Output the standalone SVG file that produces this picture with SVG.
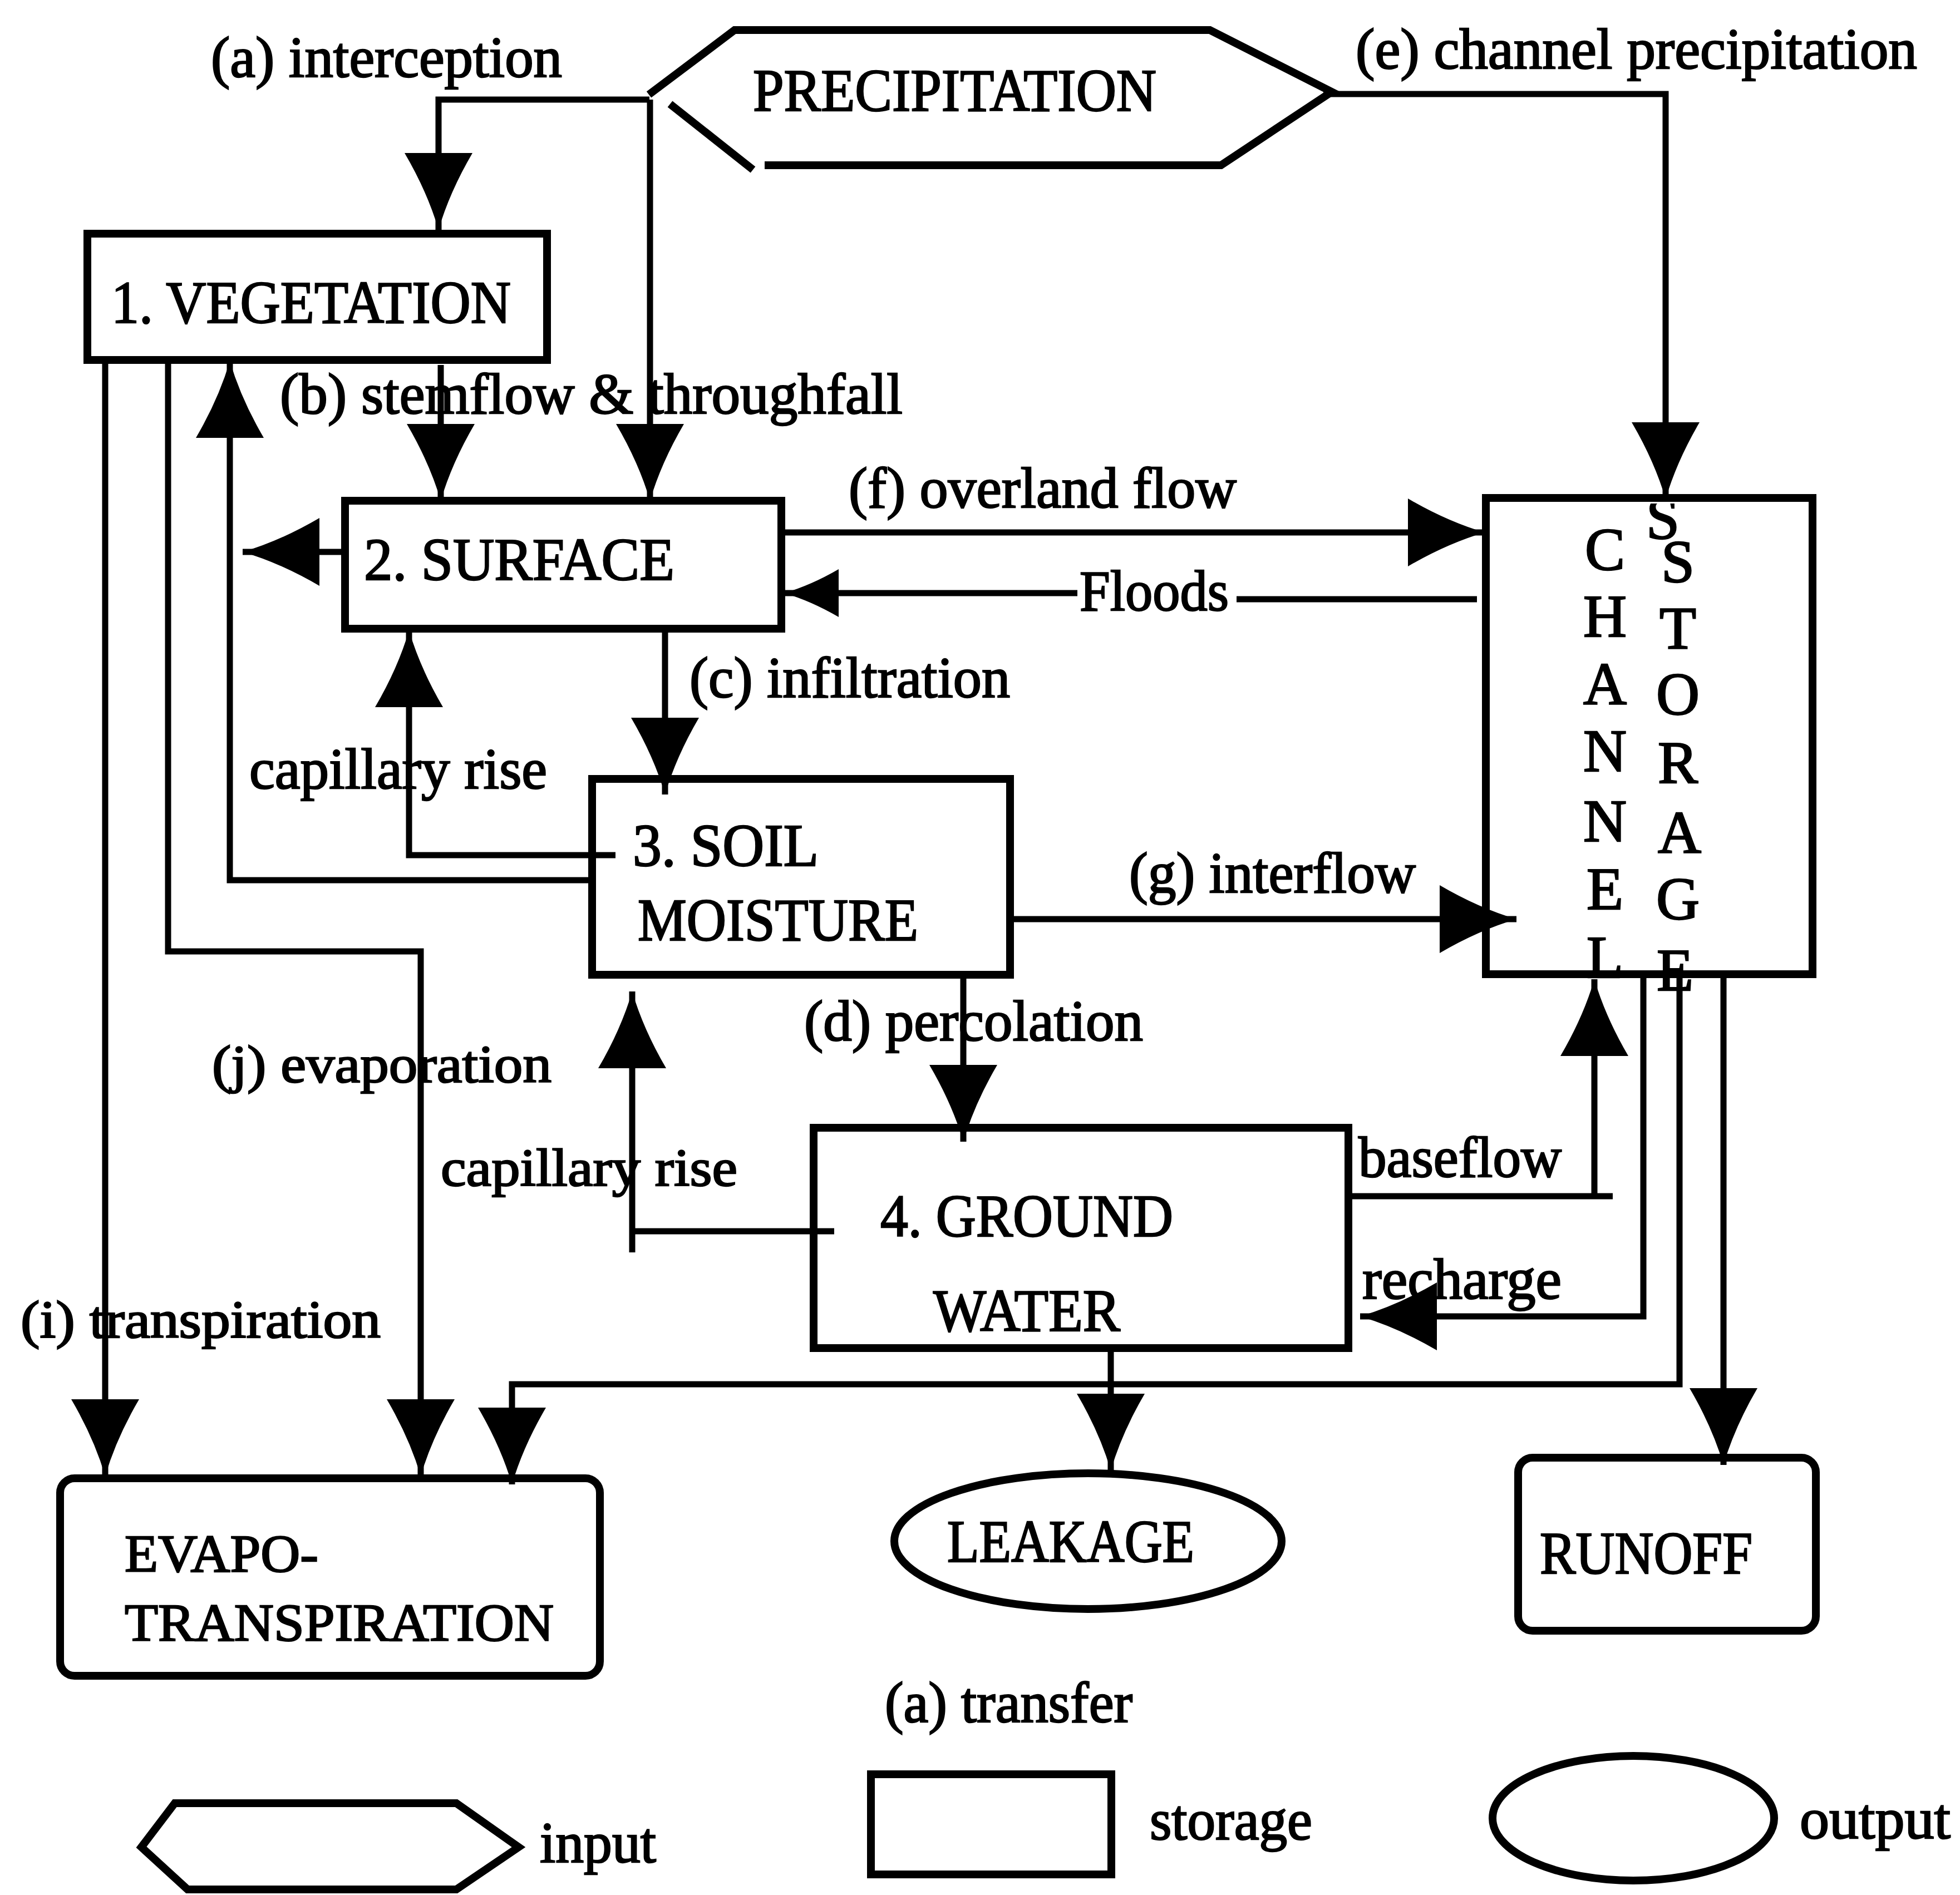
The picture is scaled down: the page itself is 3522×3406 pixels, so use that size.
<svg xmlns="http://www.w3.org/2000/svg" width="3522" height="3406" viewBox="0 0 3522 3406">
<style>
.t{font-family:"Liberation Serif","Times New Roman",serif;font-size:104px;fill:#000;stroke:#000;stroke-width:2.5}
.c{font-size:108px}
.p{font-size:96px}
.L{font-family:"Liberation Serif","Times New Roman",serif;font-size:108px;fill:#000;stroke:#000;stroke-width:2.5;text-anchor:middle}
.box{fill:none;stroke:#000;stroke-width:14}
.ln{fill:none;stroke:#000;stroke-width:11}
</style>
<defs>
<marker id="ah" markerUnits="userSpaceOnUse" markerWidth="140" markerHeight="124" viewBox="0 0 140 124" refX="138" refY="62" orient="auto" overflow="visible">
<path d="M0,1 Q70,42 138,62 Q70,82 0,123 Z" fill="#000" stroke="none"/>
</marker>
<marker id="ahs" markerUnits="userSpaceOnUse" markerWidth="100" markerHeight="88" viewBox="0 0 100 88" refX="98" refY="44" orient="auto" overflow="visible">
<path d="M0,1 Q50,30 98,44 Q50,58 0,87 Z" fill="#000" stroke="none"/>
</marker>
<clipPath id="clipS"><rect x="2940" y="905" width="100" height="75"/></clipPath>
</defs>
<rect width="3522" height="3406" fill="#fff"/>

<g id="precipitation">
<polyline class="box" points="1374,297 2194,297 2393,165 2174,54 1320,54 1166,170"/>
<line class="box" x1="1204" y1="187" x2="1353" y2="305"/>
<text class="t c" x="1353" y="199" textLength="725" lengthAdjust="spacingAndGlyphs">PRECIPITATION</text>
</g>

<g id="vegetation">
<rect class="box" x="157" y="420" width="826" height="227"/>
<text class="t c" x="200" y="580" textLength="718" lengthAdjust="spacingAndGlyphs">1. VEGETATION</text>
</g>

<g id="surface">
<rect class="box" x="620" y="900" width="784" height="230"/>
<text class="t c" x="654" y="1042" textLength="558" lengthAdjust="spacingAndGlyphs">2. SURFACE</text>
</g>

<g id="soil-moisture">
<rect class="box" x="1064" y="1400" width="751" height="352"/>
<text class="t c" x="1137" y="1556" textLength="334" lengthAdjust="spacingAndGlyphs">3. SOIL</text>
<text class="t c" x="1146" y="1690" textLength="504" lengthAdjust="spacingAndGlyphs">MOISTURE</text>
</g>

<g id="ground-water">
<rect class="box" x="1462" y="2027" width="961" height="396"/>
<text class="t c" x="1582" y="2222" textLength="526" lengthAdjust="spacingAndGlyphs">4. GROUND</text>
<text class="t c" x="1677" y="2392" textLength="336" lengthAdjust="spacingAndGlyphs">WATER</text>
</g>

<g id="channel-storage">
<rect class="box" x="2670" y="895" width="587" height="856"/>
<text class="L" x="2884" y="1024">C</text>
<text class="L" x="2884" y="1144">H</text>
<text class="L" x="2884" y="1266">A</text>
<text class="L" x="2884" y="1386">N</text>
<text class="L" x="2884" y="1512">N</text>
<text class="L" x="2884" y="1634">E</text>
<text class="L" x="2884" y="1757">L</text>
<text class="L" x="2988" y="968" font-size="90" clip-path="url(#clipS)">S</text>
<text class="L" x="3015" y="1046">S</text>
<text class="L" x="3015" y="1165">T</text>
<text class="L" x="3015" y="1284">O</text>
<text class="L" x="3015" y="1407">R</text>
<text class="L" x="3018" y="1533">A</text>
<text class="L" x="3015" y="1652">G</text>
<text class="L" x="3010" y="1780">E</text>
</g>

<g id="evapotranspiration">
<rect class="box" x="108" y="2657" width="970" height="355" rx="26"/>
<text class="t p" x="224" y="2825" textLength="348" lengthAdjust="spacingAndGlyphs">EVAPO-</text>
<text class="t p" x="224" y="2949" textLength="771" lengthAdjust="spacingAndGlyphs">TRANSPIRATION</text>
</g>

<g id="leakage">
<ellipse class="box" cx="1955" cy="2770" rx="348" ry="122"/>
<text class="t c" x="1702" y="2807" textLength="444" lengthAdjust="spacingAndGlyphs">LEAKAGE</text>
</g>

<g id="runoff">
<rect class="box" x="2728" y="2620" width="535" height="311" rx="26"/>
<text class="t c" x="2767" y="2828" textLength="382" lengthAdjust="spacingAndGlyphs">RUNOFF</text>
</g>

<g id="connectors">
<path class="ln" d="M1167,179 H788 V413" marker-end="url(#ah)"/>
<path class="ln" d="M1168,179 V900" marker-end="url(#ah)"/>
<path class="ln" d="M792,656 V900" marker-end="url(#ah)"/>
<path class="ln" d="M2378,169 H2993 V897" marker-end="url(#ah)"/>
<path class="ln" d="M1064,1582 H413 V649" marker-end="url(#ah)"/>
<path class="ln" d="M620,992 H436" marker-end="url(#ah)"/>
<path class="ln" d="M1409,957 H2668" marker-end="url(#ah)"/>
<path class="ln" d="M2654,1077 H2222"/>
<path class="ln" d="M1936,1066 H1409" marker-end="url(#ahs)"/>
<path class="ln" d="M1195,1132 V1428" marker-end="url(#ah)"/>
<path class="ln" d="M1106,1537 H735 V1133" marker-end="url(#ah)"/>
<path class="ln" d="M1820,1652 H2725" marker-end="url(#ah)"/>
<path class="ln" d="M189,647 V2653" marker-end="url(#ah)"/>
<path class="ln" d="M302,647 V1710 H756 V2653" marker-end="url(#ah)"/>
<path class="ln" d="M1731,1750 V2052" marker-end="url(#ah)"/>
<path class="ln" d="M1499,2213 H1136"/>
<path class="ln" d="M1136,2251 V1782" marker-end="url(#ah)"/>
<path class="ln" d="M2427,2150 H2898"/>
<path class="ln" d="M2865,2150 V1760" marker-end="url(#ah)"/>
<path class="ln" d="M2953,1751 V2366 H2444" marker-end="url(#ah)"/>
<path class="ln" d="M3018,1751 V2488 H920 V2668" marker-end="url(#ah)"/>
<path class="ln" d="M3097,1751 V2633" marker-end="url(#ah)"/>
<path class="ln" d="M1996,2425 V2643" marker-end="url(#ah)"/>
</g>

<g id="labels">
<text class="t" x="379" y="138" textLength="631" lengthAdjust="spacingAndGlyphs">(a) interception</text>
<text class="t" x="2436" y="123" textLength="1009" lengthAdjust="spacingAndGlyphs">(e) channel precipitation</text>
<text class="t" x="503" y="743" textLength="1119" lengthAdjust="spacingAndGlyphs">(b) stemflow &amp; throughfall</text>
<text class="t" x="1525" y="912" textLength="697" lengthAdjust="spacingAndGlyphs">(f) overland flow</text>
<text class="t" x="1940" y="1097" textLength="268" lengthAdjust="spacingAndGlyphs">Floods</text>
<text class="t" x="1239" y="1253" textLength="576" lengthAdjust="spacingAndGlyphs">(c) infiltration</text>
<text class="t" x="448" y="1417" textLength="535" lengthAdjust="spacingAndGlyphs">capillary rise</text>
<text class="t" x="2029" y="1604" textLength="515" lengthAdjust="spacingAndGlyphs">(g) interflow</text>
<text class="t p" x="381" y="1945" textLength="610" lengthAdjust="spacingAndGlyphs">(j) evaporation</text>
<text class="t" x="1445" y="1870" textLength="609" lengthAdjust="spacingAndGlyphs">(d) percolation</text>
<text class="t p" x="792" y="2131" textLength="533" lengthAdjust="spacingAndGlyphs">capillary rise</text>
<text class="t" x="2441" y="2115" textLength="365" lengthAdjust="spacingAndGlyphs">baseflow</text>
<text class="t" x="2448" y="2334" textLength="358" lengthAdjust="spacingAndGlyphs">recharge</text>
<text class="t p" x="37" y="2404" textLength="647" lengthAdjust="spacingAndGlyphs">(i) transpiration</text>
</g>

<g id="legend">
<text class="t" x="1590" y="3095" textLength="445" lengthAdjust="spacingAndGlyphs">(a) transfer</text>
<polygon class="box" points="314,3241 820,3241 932,3320 820,3396 337,3396 254,3320"/>
<text class="t" x="970" y="3347" textLength="209" lengthAdjust="spacingAndGlyphs">input</text>
<rect class="box" x="1565" y="3189" width="432" height="180"/>
<text class="t" x="2066" y="3306" textLength="292" lengthAdjust="spacingAndGlyphs">storage</text>
<ellipse class="box" cx="2935" cy="3268" rx="253" ry="112"/>
<text class="t" x="3234" y="3304" textLength="271" lengthAdjust="spacingAndGlyphs">output</text>
</g>
</svg>
